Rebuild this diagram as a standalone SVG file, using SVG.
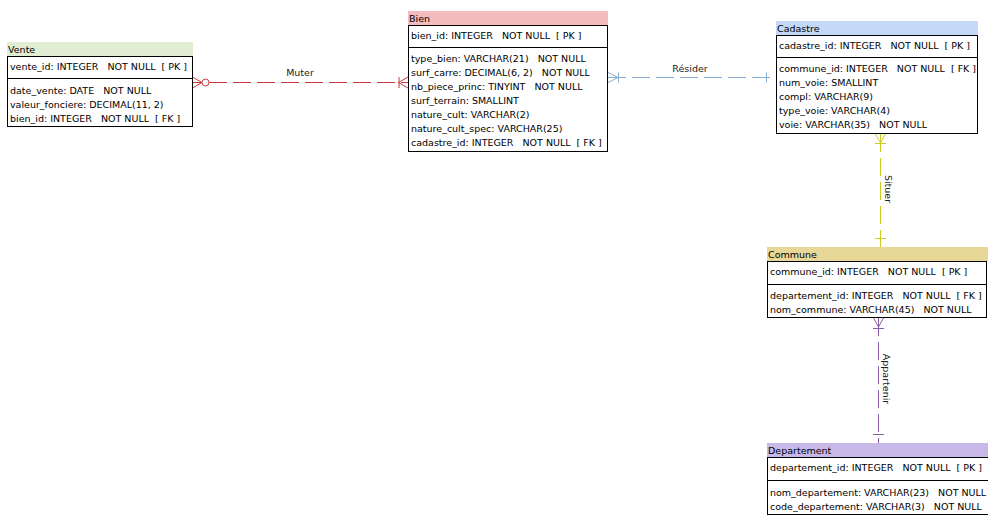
<svg xmlns="http://www.w3.org/2000/svg" width="988" height="523" viewBox="0 0 988 523">
<style>
text{font-family:"DejaVu Sans","Liberation Sans",sans-serif;font-size:9.5px;fill:#000;white-space:pre}
.box{fill:#fff;stroke:#000;stroke-width:1}
.div{stroke:#000;stroke-width:1}
.lbl{font-size:9.5px;fill:#222}
.muter{stroke:#c8383c;fill:none;stroke-width:1}
.resider{stroke:#8aaed0;fill:none;stroke-width:1}
.situer{stroke:#cccc22;fill:none;stroke-width:1}
.appart{stroke:#8c5ca4;fill:none;stroke-width:1}
.dash{stroke-dasharray:18 6}
</style>
<rect width="988" height="523" fill="#fff"/>
<g id="connectors">
  <g id="muter">
    <line class="muter dash" x1="209" y1="82.5" x2="408" y2="82.5"/>
    <path class="muter" d="M192.5 77 L202 82.5 L192.5 88 M192.5 82.5 L202 82.5"/>
    <circle class="muter" cx="205.5" cy="82.5" r="3.5"/>
    <path class="muter" d="M408 77 L398.5 82.5 L408 88 M399 77 L399 88"/>
    <text class="lbl" x="300" y="76" text-anchor="middle">Muter</text>
  </g>
  <g id="resider">
    <line class="resider dash" x1="608" y1="77.5" x2="776" y2="77.5"/>
    <path class="resider" d="M608 72.5 L618 77.5 L608 82.5 M618.5 72.5 L618.5 82.5"/>
    <path class="resider" d="M766.5 72.5 L766.5 82.5"/>
    <text class="lbl" x="690" y="72" text-anchor="middle">Résider</text>
  </g>
  <g id="situer">
    <line class="situer dash" x1="880.5" y1="134" x2="880.5" y2="247"/>
    <path class="situer" d="M875.5 134 L880.5 143 L885.5 134 M875 143.5 L886 143.5"/>
    <path class="situer" d="M875 238.5 L886 238.5"/>
    <text class="lbl" x="885" y="189" text-anchor="middle" transform="rotate(90 885 189)">Situer</text>
  </g>
  <g id="appartenir">
    <line class="appart dash" x1="878.5" y1="318" x2="878.5" y2="443"/>
    <path class="appart" d="M873.5 318 L878.5 327 L883.5 318 M873 328.5 L884 328.5"/>
    <path class="appart" d="M873 434.5 L884 434.5"/>
    <text class="lbl" x="883" y="379" text-anchor="middle" transform="rotate(90 883 379)">Appartenir</text>
  </g>
</g>
<g id="vente">
  <rect x="7" y="42" width="186" height="14" fill="#e2eed4"/>
  <text x="8" y="53">Vente</text>
  <rect class="box" x="7.5" y="56.5" width="185" height="70"/>
  <line class="div" x1="7.5" y1="78.5" x2="192.5" y2="78.5"/>
  <text x="10" y="70">vente_id: INTEGER   NOT NULL  [ PK ]</text>
  <text x="10" y="94">date_vente: DATE   NOT NULL</text>
  <text x="10" y="108">valeur_fonciere: DECIMAL(11, 2)</text>
  <text x="10" y="122">bien_id: INTEGER   NOT NULL  [ FK ]</text>
</g>
<g id="bien">
  <rect x="408" y="11" width="200" height="14" fill="#f4bcbc"/>
  <text x="409" y="22">Bien</text>
  <rect class="box" x="408.5" y="25.5" width="199" height="126"/>
  <line class="div" x1="408.5" y1="47.5" x2="607.5" y2="47.5"/>
  <text x="411" y="39">bien_id: INTEGER   NOT NULL  [ PK ]</text>
  <text x="411" y="62">type_bien: VARCHAR(21)   NOT NULL</text>
  <text x="411" y="76">surf_carre: DECIMAL(6, 2)   NOT NULL</text>
  <text x="411" y="90">nb_piece_princ: TINYINT   NOT NULL</text>
  <text x="411" y="104">surf_terrain: SMALLINT</text>
  <text x="411" y="118">nature_cult: VARCHAR(2)</text>
  <text x="411" y="132">nature_cult_spec: VARCHAR(25)</text>
  <text x="411" y="146">cadastre_id: INTEGER   NOT NULL  [ FK ]</text>
</g>
<g id="cadastre">
  <rect x="776" y="21" width="202" height="14" fill="#c4d8f8"/>
  <text x="777" y="32">Cadastre</text>
  <rect class="box" x="776.5" y="35.5" width="201" height="98"/>
  <line class="div" x1="776.5" y1="57.5" x2="977.5" y2="57.5"/>
  <text x="779" y="49">cadastre_id: INTEGER   NOT NULL  [ PK ]</text>
  <text x="779" y="72">commune_id: INTEGER   NOT NULL  [ FK ]</text>
  <text x="779" y="86">num_voie: SMALLINT</text>
  <text x="779" y="100">compl: VARCHAR(9)</text>
  <text x="779" y="114">type_voie: VARCHAR(4)</text>
  <text x="779" y="128">voie: VARCHAR(35)   NOT NULL</text>
</g>
<g id="commune">
  <rect x="767" y="247" width="221" height="14" fill="#e8d898"/>
  <text x="768" y="258">Commune</text>
  <rect class="box" x="767.5" y="261.5" width="219" height="56"/>
  <line class="div" x1="767.5" y1="284.5" x2="986.5" y2="284.5"/>
  <text x="770" y="275">commune_id: INTEGER   NOT NULL  [ PK ]</text>
  <text x="770" y="299">departement_id: INTEGER   NOT NULL  [ FK ]</text>
  <text x="770" y="313">nom_commune: VARCHAR(45)   NOT NULL</text>
</g>
<g id="departement">
  <rect x="767" y="443" width="221" height="14" fill="#c8b8e8"/>
  <text x="768" y="454">Departement</text>
  <rect class="box" x="767.5" y="457.5" width="240" height="57"/>
  <line class="div" x1="767.5" y1="480.5" x2="988" y2="480.5"/>
  <text x="770" y="471">departement_id: INTEGER   NOT NULL  [ PK ]</text>
  <text x="770" y="496">nom_departement: VARCHAR(23)   NOT NULL</text>
  <text x="770" y="510">code_departement: VARCHAR(3)   NOT NULL</text>
</g>
</svg>
